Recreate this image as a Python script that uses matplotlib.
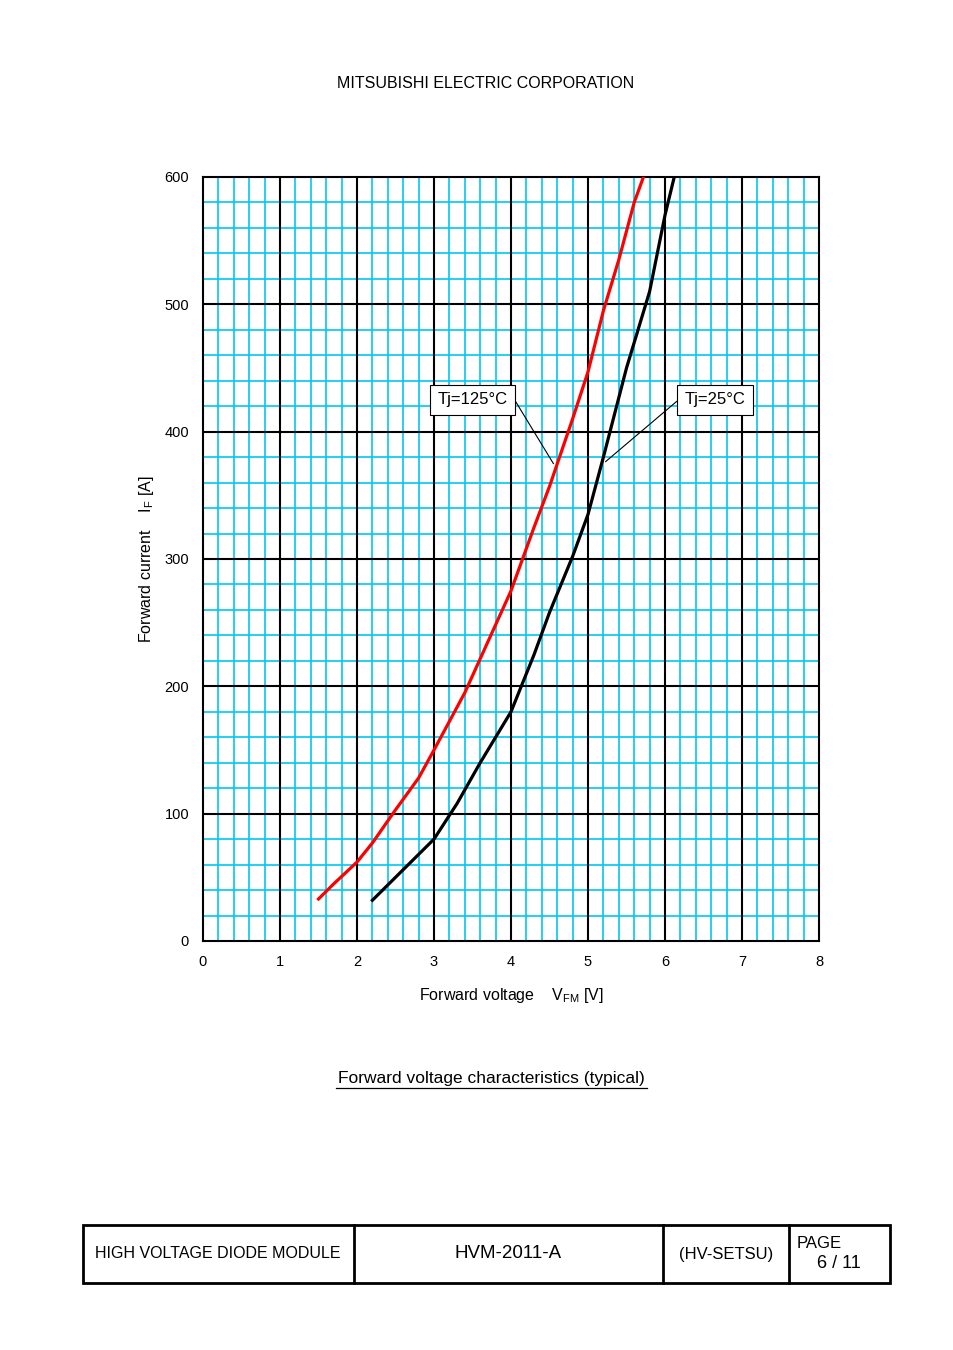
import numpy as np
import matplotlib.pyplot as plt
from matplotlib.lines import Line2D
from matplotlib.patches import Rectangle

plt.rcParams['font.family'] = 'Liberation Sans'

# Tj=125C curve (V, A)
v_125 = [1.5, 1.7, 2.0, 2.2, 2.5, 2.8, 3.0, 3.4, 3.7, 4.0, 4.3, 4.5, 4.8, 5.0, 5.2, 5.4, 5.6, 5.72]
i_125 = [33, 45, 62, 77, 103, 128, 150, 195, 235, 275, 325, 357, 410, 447, 495, 535, 580, 600]
# Tj=25C curve
v_25 = [2.2, 2.4, 2.7, 3.0, 3.3, 3.6, 4.0, 4.3, 4.5, 4.8, 5.0, 5.2, 5.5, 5.8, 6.0, 6.12]
i_25 = [32, 44, 62, 80, 108, 140, 180, 225, 258, 302, 335, 380, 450, 510, 570, 600]

W, H = 954, 1350
fig = plt.figure(figsize=(W / 100, H / 100), dpi=100)
ax = fig.add_axes([203 / W, 1 - 941 / H, (819 - 203) / W, (941 - 177) / H])

ax.set_xlim(0, 8)
ax.set_ylim(0, 600)
for x in np.arange(0.2, 8, 0.2):
    if abs(x - round(x)) > 1e-6:
        ax.axvline(x, color='#00c8f0', lw=1.2, zorder=1)
for y in np.arange(20, 600, 20):
    if y % 100:
        ax.axhline(y, color='#00c8f0', lw=1.2, zorder=1)
for x in range(1, 8):
    ax.axvline(x, color='black', lw=1.5, zorder=2)
for y in range(100, 600, 100):
    ax.axhline(y, color='black', lw=1.5, zorder=2)
for s in ax.spines.values():
    s.set_linewidth(1.5)

ax.plot(v_125, i_125, color='red', lw=2.3, zorder=3)
ax.plot(v_25, i_25, color='black', lw=2.3, zorder=3)

ax.set_xticks(range(0, 9))
ax.set_yticks(range(0, 601, 100))
ax.tick_params(axis='x', length=0, labelsize=10.5, pad=10)
ax.tick_params(axis='y', length=0, labelsize=10.5, pad=10)
ax.set_xlabel('Forward voltage    V$_{\\mathregular{FM}}$ [V]', fontsize=11.5, labelpad=12)
ax.set_ylabel('Forward current    I$_{\\mathregular{F}}$ [A]', fontsize=11.5, labelpad=6)

ax.annotate('Tj=125°C', xy=(4.57, 373), xytext=(3.5, 425), fontsize=12,
            ha='center', va='center',
            bbox=dict(boxstyle='square,pad=0.45', fc='white', ec='black', lw=0.8),
            arrowprops=dict(arrowstyle='-', lw=0.8, shrinkA=0, relpos=(1.1, 0.5)), zorder=5)
ax.annotate('Tj=25°C', xy=(5.2, 375), xytext=(6.65, 425), fontsize=12,
            ha='center', va='center',
            bbox=dict(boxstyle='square,pad=0.45', fc='white', ec='black', lw=0.8),
            arrowprops=dict(arrowstyle='-', lw=0.8, shrinkA=0, relpos=(-0.1, 0.5)), zorder=5)

fig.text(486 / W, 1 - 83 / H, 'MITSUBISHI ELECTRIC CORPORATION', ha='center', va='center', fontsize=11.5)
fig.text(491 / W, 1 - 1078 / H, 'Forward voltage characteristics (typical)', ha='center',
         va='center', fontsize=12.5)
fig.add_artist(Line2D([336 / W, 647 / W], [1 - 1088 / H] * 2, color='black', lw=0.9))

# footer table
fig.add_artist(Rectangle((83 / W, 1 - 1283 / H), (890 - 83) / W, 58 / H, transform=fig.transFigure,
                         fill=False, ec='black', lw=2))
for xp in [354, 663, 789]:
    fig.add_artist(Line2D([xp / W] * 2, [1 - 1283 / H, 1 - 1225 / H], color='black', lw=2))
fig.text(218 / W, 1 - 1254 / H, 'HIGH VOLTAGE DIODE MODULE', ha='center', va='center', fontsize=11.5)
fig.text(508 / W, 1 - 1254 / H, 'HVM-2011-A', ha='center', va='center', fontsize=13.5)
fig.text(726 / W, 1 - 1254 / H, '(HV-SETSU)', ha='center', va='center', fontsize=12)
fig.text(797 / W, 1 - 1243 / H, 'PAGE', ha='left', va='center', fontsize=12)
fig.text(839 / W, 1 - 1264 / H, '6 / 11', ha='center', va='center', fontsize=13)

fig.savefig('out.png', dpi=100)
